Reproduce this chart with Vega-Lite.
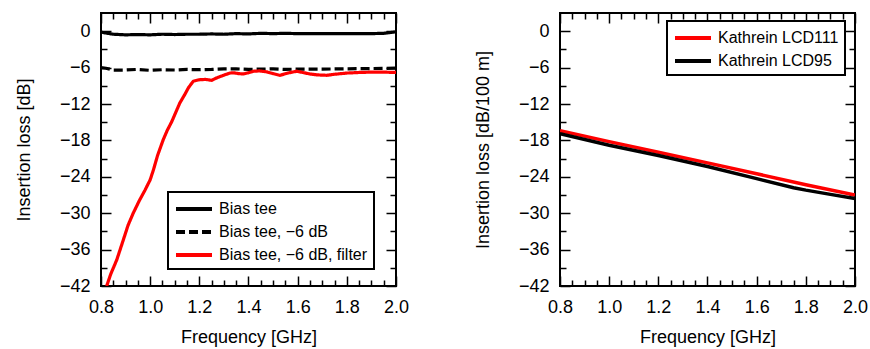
{
  "$schema": "https://vega.github.io/schema/vega-lite/v6.json",
  "padding": {"left": 14, "top": 11, "right": 5, "bottom": 0},
  "spacing": 63,
  "resolve": {"scale": {"color": "independent", "strokeDash": "independent"}, "legend": {"color": "independent", "strokeDash": "independent"}},
  "config": {
    "font": "Liberation Sans",
    "view": {"stroke": "black", "strokeWidth": 2},
    "axis": {"domain": false, "grid": false, "tickColor": "black", "tickWidth": 1.5, "labelFont": "Liberation Sans", "labelFontSize": 18, "labelColor": "black", "titleFont": "Liberation Sans", "titleFontSize": 18, "titleFontWeight": "normal", "titleColor": "black"},
    "legend": {"strokeColor": "black", "strokeWidth": 2, "fillColor": "white", "labelFont": "Liberation Sans", "labelFontSize": 16, "labelColor": "black", "padding": 6, "symbolStrokeWidth": 4, "symbolType": "M-2,0H2", "symbolSize": 324, "symbolOffset": 9, "rowPadding": 4, "labelOffset": 14, "title": null}
  },
  "hconcat": [
    {
      "width": 295, "height": 273,
      "data": {"values": [
        {"s": "Bias tee", "f": 0.8, "v": -0.15},
        {"s": "Bias tee", "f": 0.82, "v": -0.3},
        {"s": "Bias tee", "f": 0.85, "v": -0.5},
        {"s": "Bias tee", "f": 0.9, "v": -0.6},
        {"s": "Bias tee", "f": 0.95, "v": -0.55},
        {"s": "Bias tee", "f": 1.0, "v": -0.6},
        {"s": "Bias tee", "f": 1.05, "v": -0.5},
        {"s": "Bias tee", "f": 1.1, "v": -0.55},
        {"s": "Bias tee", "f": 1.15, "v": -0.5},
        {"s": "Bias tee", "f": 1.2, "v": -0.5},
        {"s": "Bias tee", "f": 1.25, "v": -0.45},
        {"s": "Bias tee", "f": 1.3, "v": -0.5},
        {"s": "Bias tee", "f": 1.35, "v": -0.4},
        {"s": "Bias tee", "f": 1.4, "v": -0.45},
        {"s": "Bias tee", "f": 1.45, "v": -0.35},
        {"s": "Bias tee", "f": 1.5, "v": -0.4},
        {"s": "Bias tee", "f": 1.55, "v": -0.35},
        {"s": "Bias tee", "f": 1.6, "v": -0.4},
        {"s": "Bias tee", "f": 1.7, "v": -0.4},
        {"s": "Bias tee", "f": 1.8, "v": -0.4},
        {"s": "Bias tee", "f": 1.9, "v": -0.4},
        {"s": "Bias tee", "f": 1.95, "v": -0.35},
        {"s": "Bias tee", "f": 1.98, "v": -0.2},
        {"s": "Bias tee", "f": 2.0, "v": -0.1},
        {"s": "Bias tee, −6 dB", "f": 0.8, "v": -6.0},
        {"s": "Bias tee, −6 dB", "f": 0.82, "v": -6.1},
        {"s": "Bias tee, −6 dB", "f": 0.85, "v": -6.4},
        {"s": "Bias tee, −6 dB", "f": 0.9, "v": -6.4},
        {"s": "Bias tee, −6 dB", "f": 0.95, "v": -6.3},
        {"s": "Bias tee, −6 dB", "f": 1.0, "v": -6.45},
        {"s": "Bias tee, −6 dB", "f": 1.05, "v": -6.35},
        {"s": "Bias tee, −6 dB", "f": 1.1, "v": -6.4},
        {"s": "Bias tee, −6 dB", "f": 1.15, "v": -6.3},
        {"s": "Bias tee, −6 dB", "f": 1.2, "v": -6.35},
        {"s": "Bias tee, −6 dB", "f": 1.25, "v": -6.3},
        {"s": "Bias tee, −6 dB", "f": 1.3, "v": -6.2},
        {"s": "Bias tee, −6 dB", "f": 1.35, "v": -6.2},
        {"s": "Bias tee, −6 dB", "f": 1.4, "v": -6.3},
        {"s": "Bias tee, −6 dB", "f": 1.45, "v": -6.25},
        {"s": "Bias tee, −6 dB", "f": 1.5, "v": -6.2},
        {"s": "Bias tee, −6 dB", "f": 1.55, "v": -6.3},
        {"s": "Bias tee, −6 dB", "f": 1.6, "v": -6.25},
        {"s": "Bias tee, −6 dB", "f": 1.7, "v": -6.25},
        {"s": "Bias tee, −6 dB", "f": 1.8, "v": -6.2},
        {"s": "Bias tee, −6 dB", "f": 1.9, "v": -6.15},
        {"s": "Bias tee, −6 dB", "f": 2.0, "v": -6.1},
        {"s": "Bias tee, −6 dB, filter", "f": 0.823, "v": -42.0},
        {"s": "Bias tee, −6 dB, filter", "f": 0.84, "v": -40.0},
        {"s": "Bias tee, −6 dB, filter", "f": 0.864, "v": -37.7},
        {"s": "Bias tee, −6 dB, filter", "f": 0.89, "v": -34.5},
        {"s": "Bias tee, −6 dB, filter", "f": 0.91, "v": -32.0},
        {"s": "Bias tee, −6 dB, filter", "f": 0.931, "v": -30.0},
        {"s": "Bias tee, −6 dB, filter", "f": 0.955, "v": -28.0},
        {"s": "Bias tee, −6 dB, filter", "f": 0.979, "v": -26.2},
        {"s": "Bias tee, −6 dB, filter", "f": 1.0, "v": -24.5},
        {"s": "Bias tee, −6 dB, filter", "f": 1.013, "v": -22.9},
        {"s": "Bias tee, −6 dB, filter", "f": 1.03, "v": -20.5},
        {"s": "Bias tee, −6 dB, filter", "f": 1.053, "v": -17.9},
        {"s": "Bias tee, −6 dB, filter", "f": 1.07, "v": -16.3},
        {"s": "Bias tee, −6 dB, filter", "f": 1.088, "v": -14.9},
        {"s": "Bias tee, −6 dB, filter", "f": 1.105, "v": -13.3},
        {"s": "Bias tee, −6 dB, filter", "f": 1.121, "v": -11.8},
        {"s": "Bias tee, −6 dB, filter", "f": 1.14, "v": -10.5},
        {"s": "Bias tee, −6 dB, filter", "f": 1.155, "v": -9.36},
        {"s": "Bias tee, −6 dB, filter", "f": 1.175, "v": -8.26},
        {"s": "Bias tee, −6 dB, filter", "f": 1.2, "v": -8.0},
        {"s": "Bias tee, −6 dB, filter", "f": 1.225, "v": -7.95},
        {"s": "Bias tee, −6 dB, filter", "f": 1.25, "v": -8.1},
        {"s": "Bias tee, −6 dB, filter", "f": 1.27, "v": -7.7},
        {"s": "Bias tee, −6 dB, filter", "f": 1.29, "v": -7.4},
        {"s": "Bias tee, −6 dB, filter", "f": 1.31, "v": -7.1},
        {"s": "Bias tee, −6 dB, filter", "f": 1.325, "v": -6.9},
        {"s": "Bias tee, −6 dB, filter", "f": 1.34, "v": -6.85},
        {"s": "Bias tee, −6 dB, filter", "f": 1.36, "v": -7.0},
        {"s": "Bias tee, −6 dB, filter", "f": 1.38, "v": -7.05},
        {"s": "Bias tee, −6 dB, filter", "f": 1.4, "v": -6.85},
        {"s": "Bias tee, −6 dB, filter", "f": 1.42, "v": -6.6},
        {"s": "Bias tee, −6 dB, filter", "f": 1.445, "v": -6.55},
        {"s": "Bias tee, −6 dB, filter", "f": 1.474, "v": -6.7},
        {"s": "Bias tee, −6 dB, filter", "f": 1.5, "v": -7.0},
        {"s": "Bias tee, −6 dB, filter", "f": 1.528, "v": -7.27},
        {"s": "Bias tee, −6 dB, filter", "f": 1.56, "v": -6.9},
        {"s": "Bias tee, −6 dB, filter", "f": 1.596, "v": -6.6},
        {"s": "Bias tee, −6 dB, filter", "f": 1.62, "v": -6.8},
        {"s": "Bias tee, −6 dB, filter", "f": 1.65, "v": -7.05},
        {"s": "Bias tee, −6 dB, filter", "f": 1.68, "v": -7.2},
        {"s": "Bias tee, −6 dB, filter", "f": 1.718, "v": -7.27},
        {"s": "Bias tee, −6 dB, filter", "f": 1.75, "v": -7.1},
        {"s": "Bias tee, −6 dB, filter", "f": 1.8, "v": -6.9},
        {"s": "Bias tee, −6 dB, filter", "f": 1.85, "v": -6.8},
        {"s": "Bias tee, −6 dB, filter", "f": 1.9, "v": -6.75},
        {"s": "Bias tee, −6 dB, filter", "f": 1.95, "v": -6.75},
        {"s": "Bias tee, −6 dB, filter", "f": 2.0, "v": -6.8}
      ]},
      "layer": [
        {
          "mark": {"type": "line", "strokeWidth": 3.2, "clip": true},
          "encoding": {
            "x": {"field": "f", "type": "quantitative", "scale": {"domain": [0.8, 2.0], "nice": false, "zero": false},
              "axis": {"orient": "bottom", "title": "Frequency [GHz]", "format": ".1f",
                "values": [0.8, 0.85, 0.9, 0.95, 1.0, 1.05, 1.1, 1.15, 1.2, 1.25, 1.3, 1.35, 1.4, 1.45, 1.5, 1.55, 1.6, 1.65, 1.7, 1.75, 1.8, 1.85, 1.9, 1.95, 2.0],
                "tickSize": {"condition": {"test": "abs(datum.value*5 - round(datum.value*5)) < 0.001", "value": -10}, "value": -6},
                "labelExpr": "abs(datum.value*5 - round(datum.value*5)) < 0.001 ? datum.label : ''",
                "labelPadding": 22, "titlePadding": 8, "labelFlush": false, "labelOverlap": false}},
            "y": {"field": "v", "type": "quantitative", "scale": {"domain": [-42, 3], "nice": false, "zero": false},
              "axis": {"orient": "left", "title": "Insertion loss [dB]",
                "values": [-42, -39, -36, -33, -30, -27, -24, -21, -18, -15, -12, -9, -6, -3, 0],
                "tickSize": {"condition": {"test": "abs(datum.value % 6) < 0.001", "value": -10}, "value": -6},
                "labelExpr": "abs(datum.value % 6) < 0.001 ? datum.label : ''",
                "labelPadding": 21, "titlePadding": 26, "labelFlush": false, "labelOverlap": false}},
            "color": {"field": "s", "type": "nominal",
              "scale": {"domain": ["Bias tee", "Bias tee, −6 dB", "Bias tee, −6 dB, filter"], "range": ["#000000", "#000000", "#ff0000"]},
              "legend": {"orient": "none", "legendX": 67, "legendY": 179}},
            "strokeDash": {"field": "s", "type": "nominal",
              "scale": {"domain": ["Bias tee", "Bias tee, −6 dB", "Bias tee, −6 dB, filter"], "range": [[1, 0], [9, 4], [1, 0]]},
              "legend": {"orient": "none", "legendX": 67, "legendY": 179}}
          }
        },
        {
          "mark": {"type": "point", "opacity": 0},
          "encoding": {
            "x": {"field": "f", "type": "quantitative",
              "axis": {"orient": "top", "title": null, "labels": false,
                "values": [0.8, 0.85, 0.9, 0.95, 1.0, 1.05, 1.1, 1.15, 1.2, 1.25, 1.3, 1.35, 1.4, 1.45, 1.5, 1.55, 1.6, 1.65, 1.7, 1.75, 1.8, 1.85, 1.9, 1.95, 2.0],
                "tickSize": {"condition": {"test": "abs(datum.value*5 - round(datum.value*5)) < 0.001", "value": -10}, "value": -6}}},
            "y": {"field": "v", "type": "quantitative",
              "axis": {"orient": "right", "title": null, "labels": false,
                "values": [-42, -39, -36, -33, -30, -27, -24, -21, -18, -15, -12, -9, -6, -3, 0],
                "tickSize": {"condition": {"test": "abs(datum.value % 6) < 0.001", "value": -10}, "value": -6}}}
          }
        }
      ],
      "resolve": {"axis": {"x": "independent", "y": "independent"}}
    },
    {
      "width": 295, "height": 273,
      "data": {"values": [
        {"s": "Kathrein LCD111", "f": 0.8, "v": -16.4},
        {"s": "Kathrein LCD111", "f": 1.0, "v": -18.2},
        {"s": "Kathrein LCD111", "f": 1.2, "v": -19.95},
        {"s": "Kathrein LCD111", "f": 1.4, "v": -21.7},
        {"s": "Kathrein LCD111", "f": 1.6, "v": -23.5},
        {"s": "Kathrein LCD111", "f": 1.8, "v": -25.3},
        {"s": "Kathrein LCD111", "f": 2.0, "v": -27.0},
        {"s": "Kathrein LCD95", "f": 0.8, "v": -16.9},
        {"s": "Kathrein LCD95", "f": 1.0, "v": -18.8},
        {"s": "Kathrein LCD95", "f": 1.2, "v": -20.5},
        {"s": "Kathrein LCD95", "f": 1.4, "v": -22.3},
        {"s": "Kathrein LCD95", "f": 1.6, "v": -24.3},
        {"s": "Kathrein LCD95", "f": 1.75, "v": -25.8},
        {"s": "Kathrein LCD95", "f": 1.8, "v": -26.2},
        {"s": "Kathrein LCD95", "f": 1.9, "v": -26.9},
        {"s": "Kathrein LCD95", "f": 2.0, "v": -27.6}
      ]},
      "layer": [
        {
          "mark": {"type": "line", "strokeWidth": 3.5, "clip": true},
          "encoding": {
            "x": {"field": "f", "type": "quantitative", "scale": {"domain": [0.8, 2.0], "nice": false, "zero": false},
              "axis": {"orient": "bottom", "title": "Frequency [GHz]", "format": ".1f",
                "values": [0.8, 0.85, 0.9, 0.95, 1.0, 1.05, 1.1, 1.15, 1.2, 1.25, 1.3, 1.35, 1.4, 1.45, 1.5, 1.55, 1.6, 1.65, 1.7, 1.75, 1.8, 1.85, 1.9, 1.95, 2.0],
                "tickSize": {"condition": {"test": "abs(datum.value*5 - round(datum.value*5)) < 0.001", "value": -10}, "value": -6},
                "labelExpr": "abs(datum.value*5 - round(datum.value*5)) < 0.001 ? datum.label : ''",
                "labelPadding": 22, "titlePadding": 8, "labelFlush": false, "labelOverlap": false}},
            "y": {"field": "v", "type": "quantitative", "scale": {"domain": [-42, 3], "nice": false, "zero": false},
              "axis": {"orient": "left", "title": "Insertion loss [dB/100 m]",
                "values": [-42, -39, -36, -33, -30, -27, -24, -21, -18, -15, -12, -9, -6, -3, 0],
                "tickSize": {"condition": {"test": "abs(datum.value % 6) < 0.001", "value": -10}, "value": -6},
                "labelExpr": "abs(datum.value % 6) < 0.001 ? datum.label : ''",
                "labelPadding": 21, "titlePadding": 26, "labelFlush": false, "labelOverlap": false}},
            "color": {"field": "s", "type": "nominal",
              "scale": {"domain": ["Kathrein LCD111", "Kathrein LCD95"], "range": ["#ff0000", "#000000"]},
              "legend": {"orient": "none", "legendX": 107, "legendY": 8}}
          }
        },
        {
          "mark": {"type": "point", "opacity": 0},
          "encoding": {
            "x": {"field": "f", "type": "quantitative",
              "axis": {"orient": "top", "title": null, "labels": false,
                "values": [0.8, 0.85, 0.9, 0.95, 1.0, 1.05, 1.1, 1.15, 1.2, 1.25, 1.3, 1.35, 1.4, 1.45, 1.5, 1.55, 1.6, 1.65, 1.7, 1.75, 1.8, 1.85, 1.9, 1.95, 2.0],
                "tickSize": {"condition": {"test": "abs(datum.value*5 - round(datum.value*5)) < 0.001", "value": -10}, "value": -6}}},
            "y": {"field": "v", "type": "quantitative",
              "axis": {"orient": "right", "title": null, "labels": false,
                "values": [-42, -39, -36, -33, -30, -27, -24, -21, -18, -15, -12, -9, -6, -3, 0],
                "tickSize": {"condition": {"test": "abs(datum.value % 6) < 0.001", "value": -10}, "value": -6}}}
          }
        }
      ],
      "resolve": {"axis": {"x": "independent", "y": "independent"}}
    }
  ]
}
